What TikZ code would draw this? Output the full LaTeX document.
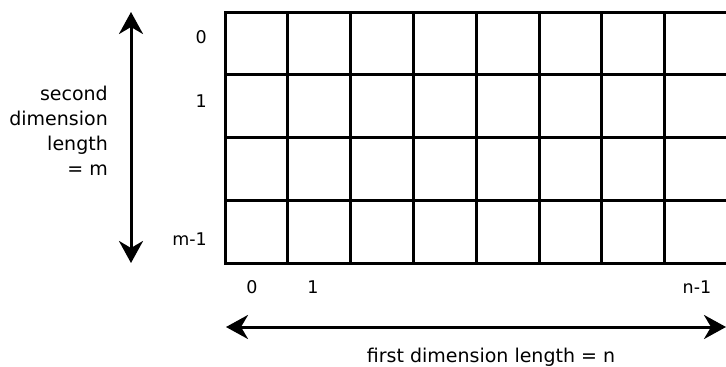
\documentclass[tikz,border=0pt]{standalone}
\usepackage{fontspec}
\setmainfont{DejaVu Sans}
\usetikzlibrary{arrows.meta}
\begin{document}
\begin{tikzpicture}[x=1pt,y=-1pt,
  gridline/.style={line width=3pt, line cap=rect},
  dimarrow/.style={line width=3pt, {Stealth[length=22pt,width=24pt,inset=7pt]}-{Stealth[length=22pt,width=24pt,inset=7pt]}},
  idx/.style={inner sep=0pt, font=\fontsize{17.5}{20}\selectfont},
  caption/.style={inner sep=0pt, font=\fontsize{19}{25}\selectfont}]
\useasboundingbox (0,0) rectangle (726,367);
% grid
\foreach \r in {0,...,4} {
  \draw[gridline] (225,{12+\r*62.75}) -- (727,{12+\r*62.75});
}
\foreach \c in {0,...,7} {
  \draw[gridline] ({225+\c*62.8},12) -- ({225+\c*62.8},263);
}
% row labels
\node[idx, anchor=east] (r0) at (207,37) {0};
\node[idx, anchor=east] (r1) at (207,101) {1};
\node[idx, anchor=east] (rm) at (207,239) {m-1};
% column labels
\node[idx] (c0) at (252,287) {0};
\node[idx] (c1) at (313,287) {1};
\node[idx] (cn) at (697,287) {n-1};
% vertical arrow
\coordinate (vtop) at (131,12);
\coordinate (vbot) at (131,263);
\draw[dimarrow] (vtop) -- (vbot);
\node[caption, anchor=east, align=right] (vlab) at (108,131) {second\\dimension\\length\\= m};
% horizontal arrow
\coordinate (hleft) at (226,327);
\coordinate (hright) at (726,327);
\draw[dimarrow] (hleft) -- (hright);
\node[caption] (hlab) at (491,357) {first dimension length = n};
\end{tikzpicture}
\end{document}
